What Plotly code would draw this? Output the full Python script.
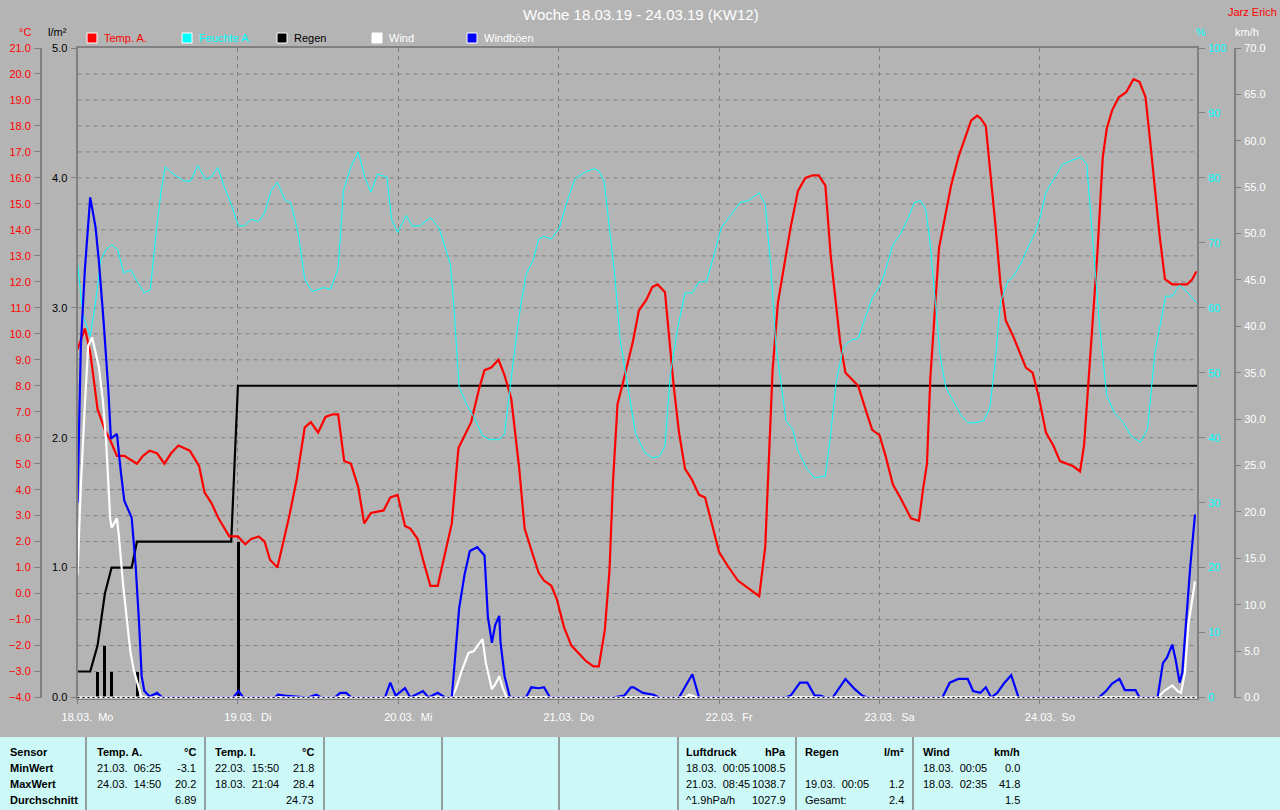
import plotly.graph_objects as go

# ---------------- data (hours since 18.03.19 00:00) ----------------
temp_hours = [0, 1.1, 1.9, 3.0, 4.1, 4.9, 5.9, 7.0, 8.9, 9.8, 10.8, 11.9, 13.0, 14.0, 15.1, 16.8, 18.2, 19.0,
              20.0, 21.1, 22.7, 24.0, 25.1, 26.0, 27.1, 28.0, 28.8, 29.9, 30.9, 31.7, 32.8, 34.0, 34.9, 36.0,
              37.1, 38.2, 39.0, 39.9, 40.9, 42.0, 42.9, 43.9, 45.8, 46.8, 47.9, 49.0, 49.8, 50.9, 51.7, 52.8,
              53.9, 55.0, 56.0, 57.0, 57.9, 58.9, 60.1, 60.9, 61.9, 63.0, 63.9, 64.9, 66.1, 66.9, 68.0, 69.0,
              69.8, 70.9, 71.7, 72.8, 73.9, 75.0, 76.1, 77.2, 78.0, 78.9, 79.6, 80.1, 80.8, 81.5, 82.3, 83.1,
              84.0, 85.1, 86.0, 86.8, 87.9, 88.4, 89.2, 90.0, 90.9, 91.9, 93.0, 93.9, 95.0, 96.0, 97.2, 98.8,
              100.4, 102.0, 102.9, 103.4, 104.0, 104.8, 105.9, 106.7, 107.8, 108.9, 110.0, 110.9, 111.9, 112.7,
              113.5, 114.1, 114.9, 116.8, 117.9, 118.9, 120.0, 120.9, 122.0, 123.1, 124.7, 125.9, 126.5, 127.1,
              127.6, 128.3, 128.9, 129.8, 130.7, 131.8, 132.9, 133.7, 134.6, 135.1, 135.9, 136.7, 137.3, 138.1,
              138.9, 140.0, 141.1, 141.9, 142.9, 143.8, 144.9, 146.0, 147.0, 147.9, 149.0, 150.0, 150.6, 151.3,
              152.0, 152.6, 153.4, 154.0, 154.8, 155.8, 156.9, 158.0, 158.9, 159.8, 160.5, 161.0, 161.9, 162.7,
              163.8, 164.9, 166.0, 166.8, 167.4]
temp_values = [9.4, 10.2, 9.3, 7.1, 6.3, 5.9, 5.3, 5.3, 5.0, 5.3, 5.5, 5.4, 5.0, 5.4, 5.7, 5.5, 4.9, 3.9,
               3.5, 2.9, 2.2, 2.2, 1.9, 2.1, 2.2, 2.0, 1.3, 1.0, 2.1, 3.0, 4.4, 6.4, 6.6, 6.2,
               6.8, 6.9, 6.9, 5.1, 5.0, 4.1, 2.7, 3.1, 3.2, 3.7, 3.8, 2.6, 2.5, 2.1, 1.3, 0.3,
               0.3, 1.6, 2.7, 5.6, 6.1, 6.6, 7.9, 8.6, 8.7, 9.0, 8.4, 7.5, 4.8, 2.5, 1.6, 0.8,
               0.5, 0.3, -0.2, -1.3, -2.0, -2.3, -2.6, -2.8, -2.8, -1.4, 0.9, 4.2, 7.3, 8.0, 8.9, 9.7,
               10.9, 11.3, 11.8, 11.9, 11.6, 10.2, 8.0, 6.2, 4.8, 4.4, 3.8, 3.7, 2.6, 1.6, 1.1, 0.5,
               0.2, -0.1, 1.8, 5.0, 8.6, 11.2, 12.8, 14.1, 15.5, 16.0, 16.1, 16.1, 15.7, 13.0,
               11.1, 9.7, 8.5, 8.0, 7.1, 6.3, 6.1, 5.3, 4.2, 3.7, 2.9, 2.8, 4.0, 5.0,
               8.3, 11.2, 13.3, 14.5, 15.7, 16.8, 17.6, 18.2, 18.4, 18.3, 18.0, 15.9, 14.3, 11.9,
               10.5, 9.9, 9.2, 8.7, 8.5, 7.6, 6.2, 5.7, 5.1, 5.0, 4.9, 4.7, 5.7, 8.3,
               10.9, 13.1, 16.8, 17.9, 18.6, 19.1, 19.3, 19.8, 19.7, 19.1, 17.4, 16.1, 13.8, 12.1,
               11.9, 11.9, 11.9, 12.1, 12.4]

hum_hours = [0, 0.8, 1.9, 2.7, 3.5, 4.3, 5.1, 6.0, 6.9, 8.0, 8.9, 10.0, 10.9, 11.8, 12.5, 13.1, 14.3, 16.0,
             16.9, 18.0, 19.1, 20.0, 21.0, 21.9, 23.0, 24.1, 24.9, 26.0, 27.1, 28.0, 29.0, 29.9, 31.1, 31.9,
             33.0, 34.0, 35.1, 36.8, 37.9, 39.0, 39.8, 40.9, 42.0, 43.0, 43.9, 44.9, 46.3, 47.0, 47.9, 49.2,
             50.1, 51.2, 52.8, 54.1, 55.8, 56.4, 57.1, 58.2, 59.3, 60.6, 61.7, 63.1, 63.9, 64.7, 65.5, 66.3,
             67.1, 68.2, 69.0, 69.8, 70.9, 72.1, 73.1, 74.4, 75.8, 77.2, 78.0, 78.8, 79.6, 80.4, 81.2, 82.0,
             82.8, 83.5, 84.9, 86.0, 87.0, 87.9, 88.7, 89.8, 90.9, 92.0, 93.0, 94.1, 95.2, 96.3, 97.7, 99.1,
             100.4, 102.0, 102.9, 103.7, 104.5, 105.4, 106.0, 107.0, 107.8, 109.2, 110.3, 111.9, 112.7, 113.5,
             114.6, 115.7, 116.8, 117.8, 118.9, 120.1, 120.9, 122.0, 123.1, 124.2, 125.2, 126.1, 126.9, 127.5,
             128.3, 129.1, 129.9, 131.3, 132.1, 133.2, 134.3, 135.6, 136.5, 137.3, 138.1, 139.2, 140.0, 141.1,
             142.2, 143.3, 144.1, 144.9, 146.3, 147.4, 148.8, 150.1, 151.0, 151.8, 152.9, 154.0, 155.1, 156.5,
             157.6, 159.0, 160.1, 161.2, 162.8, 163.8, 164.9, 166.0, 167.4]
hum_values = [67.1, 58.9, 55.6, 60.9, 67.4, 69.0, 69.7, 69.0, 65.4, 65.8, 64.1, 62.3, 62.8, 72.0, 77.8, 81.7, 80.6, 79.5,
              79.5, 81.9, 79.8, 80.1, 81.6, 78.8, 75.9, 72.6, 72.6, 73.6, 73.3, 74.6, 78.1, 79.3, 76.5, 76.2,
              71.6, 64.4, 62.5, 63.1, 62.9, 66.1, 78.1, 81.7, 84.0, 80.1, 77.8, 80.6, 80.1, 73.6, 71.6, 74.2,
              72.6, 72.6, 73.9, 72.3, 66.7, 58.9, 47.8, 45.2, 43.2, 40.3, 39.7, 39.7, 40.6, 47.8, 54.3, 60.2,
              65.1, 67.4, 70.6, 71.0, 70.6, 72.3, 75.9, 79.8, 80.8, 81.4, 81.1, 79.5, 72.6, 64.8, 55.0, 49.8,
              45.2, 40.6, 37.7, 36.9, 37.1, 38.7, 49.8, 56.9, 62.3, 62.3, 64.0, 64.0, 68.0, 72.3, 74.2, 76.2,
              76.5, 77.7, 75.9, 66.7, 54.3, 47.2, 42.6, 41.3, 38.0, 35.1, 33.8, 34.1, 40.6, 48.5,
              54.0, 55.0, 55.3, 58.3, 61.5, 63.5, 65.8, 69.7, 71.3, 73.6, 76.2, 76.5, 75.2, 70.6,
              60.9, 52.4, 47.8, 45.2, 43.6, 42.3, 42.3, 42.6, 44.6, 51.7, 60.9, 64.1, 64.8, 66.7,
              69.3, 71.6, 74.2, 77.8, 80.1, 82.1, 82.7, 83.2, 82.1, 71.3, 57.5, 46.5, 43.9, 42.3,
              40.3, 39.3, 41.3, 53.1, 61.8, 61.8, 63.5, 62.5, 60.8]

rain_cum_hours = [0, 1.9, 3.0, 4.1, 5.1, 8.1, 8.9, 23.0, 24.0, 167.5]
rain_cum_values = [0.2, 0.2, 0.4, 0.8, 1.0, 1.0, 1.2, 1.2, 2.4, 2.4]
rain_bar_hours = [2.9, 4.0, 5.0, 8.9, 24.0]
rain_bar_values = [0.2, 0.4, 0.2, 0.2, 1.2]

wind_hours = [0, 0.5, 1.1, 1.6, 2.2, 2.7, 3.2, 3.8, 4.3, 4.9, 5.1, 5.9, 6.2, 6.8, 7.3, 7.9, 8.4, 8.9, 9.5, 10.0,
              56.0, 56.6, 57.4, 58.5, 59.3, 59.8, 60.6, 61.1, 62.0, 62.5, 63.1, 63.6, 64.2,
              91.0, 91.5, 92.0, 92.5, 161.6, 162.6, 163.8, 164.6, 165.1, 165.7, 166.2, 167.2]
wind_values = [13.2, 22.8, 31.5, 37.9, 38.8, 37.2, 35.6, 32.0, 27.4, 19.2, 18.3, 19.3, 17.4, 12.3, 9.1, 5.0, 3.0, 1.8, 0.2, 0,
               0, 0.9, 2.7, 4.8, 5.0, 5.5, 6.3, 3.7, 0.9, 1.4, 2.3, 1.1, 0,
               0, 0.3, 0.2, 0, 0, 0.7, 1.3, 0.7, 0.5, 2.7, 7.8, 12.5]

gust_hours = [0, 0.5, 1.1, 1.9, 2.7, 3.2, 3.9, 4.6, 5.0, 5.9, 6.5, 7.0, 8.1, 8.7, 9.2, 9.6, 10.0, 10.8, 11.9, 12.7,
              23.3, 24.1, 24.8, 29.5, 30.0, 31.0, 34.5, 35.7, 36.5, 38.5, 39.3, 40.2, 41.0,
              46.0, 46.8, 47.6, 49.0, 49.8, 51.7, 52.5, 53.9, 55.0, 56.0, 56.6, 57.1, 57.9, 58.7, 59.8, 60.9,
              61.4, 62.0, 62.5, 63.1, 63.3, 63.9, 64.7, 67.1, 67.9, 69.0, 69.8, 70.7, 80.1, 81.8, 82.8, 83.2,
              84.6, 86.2, 87.0, 90.0, 91.1, 92.0, 93.0, 105.9, 106.7, 108.1, 109.2, 110.3, 111.1, 112.0, 113.0,
              114.9, 116.3, 117.4, 118.2, 129.4, 130.5, 131.8, 133.2, 134.0, 135.1, 135.9, 136.7, 137.6, 138.7,
              139.7, 140.8, 152.8, 153.9, 154.8, 155.9, 156.7, 158.3, 158.9, 161.6, 162.4, 163.0, 163.8, 164.3,
              164.9, 165.3, 165.7, 166.0, 166.5, 167.2]
gust_values = [21.0, 37.9, 46.1, 53.9, 50.7, 47.0, 40.6, 33.3, 27.9, 28.4, 24.2, 21.2, 19.4, 14.2, 8.2, 2.3, 0.7, 0.1, 0.5, 0,
               0, 0.7, 0, 0, 0.3, 0.2, 0, 0.3, 0, 0, 0.5, 0.5, 0,
               0, 1.6, 0.2, 1.0, 0, 0.7, 0, 0.5, 0, 0, 5.0, 9.6, 13.2, 15.8, 16.2, 15.3,
               8.7, 5.9, 7.8, 8.8, 5.9, 2.3, 0, 0, 1.1, 1.0, 1.1, 0, 0, 0.2, 1.1, 1.1,
               0.5, 0.3, 0, 0, 1.4, 2.5, 0, 0, 0.2, 1.6, 1.6, 0.2, 0.2, 0, 0,
               2.0, 0.9, 0.2, 0, 0, 1.6, 2.0, 2.0, 0.7, 0.5, 1.1, 0, 0.5, 1.6,
               2.4, 0, 0, 0.7, 1.5, 2.0, 0.8, 0.8, 0, 0, 3.7, 4.3, 5.7, 4.1,
               1.6, 2.7, 6.4, 10.0, 14.2, 19.7]

day_ticks = [0, 24, 48, 72, 96, 120, 144]
day_labels = ["18.03.\u00a0 Mo", "19.03.\u00a0 Di", "20.03.\u00a0 Mi", "21.03.\u00a0 Do",
              "22.03.\u00a0 Fr", "23.03.\u00a0 Sa", "24.03.\u00a0 So"]
temp_grid_values = list(range(-3, 21))

legend_names = ["Temp. A.", "Feuchte A.", "Regen", "Wind", "Windböen"]
legend_colors = ["#FF0000", "#00FFFF", "#000000", "#FFFFFF", "#0000FF"]
legend_text_colors = ["#FF0000", "#00FFFF", "#000000", "#FFFFFF", "#FFFFFF"]

table_header = ["Sensor", "MinWert", "MaxWert", "Durchschnitt"]
table_cols = [
    ("Temp. A.", "°C", [("21.03.\u00a0 06:25", "-3.1"), ("24.03.\u00a0 14:50", "20.2"), ("", "6.89")]),
    ("Temp. I.", "°C", [("22.03.\u00a0 15:50", "21.8"), ("18.03.\u00a0 21:04", "28.4"), ("", "24.73")]),
    ("Luftdruck", "hPa", [("18.03.\u00a0 00:05", "1008.5"), ("21.03.\u00a0 08:45", "1038.7"), ("^1.9hPa/h", "1027.9")]),
    ("Regen", "l/m²", [("", ""), ("19.03.\u00a0 00:05", "1.2"), ("Gesamt:", "2.4")]),
    ("Wind", "km/h", [("18.03.\u00a0 00:05", "0.0"), ("18.03.\u00a0 02:35", "41.8"), ("", "1.5")]),
]

# ---------------- layout helpers ----------------
W, H = 1280, 810
BG = "#B4B4B4"
GRID = "#808080"
FONT = "Liberation Sans"
DASH = "4px,4px"


def px(x):
    return x / W


def py(y):
    return 1 - y / H


PLOT_L, PLOT_R, PLOT_T, PLOT_B = 77.5, 1197, 48, 697.5

fig = go.Figure()

fig.add_trace(go.Bar(x=rain_bar_hours, y=rain_bar_values, width=0.5, yaxis="y",
                     marker=dict(color="#000000", line=dict(width=0)), showlegend=False))
fig.add_trace(go.Scatter(x=rain_cum_hours, y=rain_cum_values, mode="lines", yaxis="y",
                         line=dict(color="#000000", width=2.2), showlegend=False))
fig.add_trace(go.Scatter(x=hum_hours, y=hum_values, mode="lines", yaxis="y3",
                         line=dict(color="#00FFFF", width=1), showlegend=False))
fig.add_trace(go.Scatter(x=temp_hours, y=temp_values, mode="lines", yaxis="y2",
                         line=dict(color="#FF0000", width=2.2), showlegend=False))
fig.add_trace(go.Scatter(x=wind_hours, y=wind_values, mode="lines", yaxis="y4",
                         line=dict(color="#FFFFFF", width=2.2), showlegend=False))
fig.add_trace(go.Scatter(x=gust_hours, y=gust_values, mode="lines", yaxis="y4",
                         line=dict(color="#0000FF", width=2.2), showlegend=False))

ydom = [py(PLOT_B), py(PLOT_T)]
tickfont = lambda c: dict(family=FONT, size=11, color=c)

shapes = []
annotations = []

# horizontal dashed grid (one per °C on the temperature scale)
for v in temp_grid_values:
    shapes.append(dict(type="line", xref="x domain", yref="y2", x0=0, x1=1, y0=v, y1=v,
                       line=dict(color=GRID, width=1, dash=DASH), layer="below"))

# legend
for i, (name, col, tcol) in enumerate(zip(legend_names, legend_colors, legend_text_colors)):
    x0 = 87 + i * 95
    shapes.append(dict(type="rect", xref="paper", yref="paper", x0=px(x0), x1=px(x0 + 10),
                       y0=py(43), y1=py(33), fillcolor=col, line=dict(color="#FFFFFF", width=1)))
    annotations.append(dict(xref="paper", yref="paper", x=px(x0 + 15), y=py(38), text=name,
                            showarrow=False, xanchor="left", yanchor="middle",
                            font=dict(family=FONT, size=11, color=tcol)))

# title & labels
annotations += [
    dict(xref="paper", yref="paper", x=px(641), y=py(15), text="Woche 18.03.19 - 24.03.19 (KW12)",
         showarrow=False, xanchor="center", yanchor="middle", font=dict(family=FONT, size=15, color="#FFFFFF")),
    dict(xref="paper", yref="paper", x=px(1252), y=py(12), text="Jarz Erich", showarrow=False,
         xanchor="center", yanchor="middle", font=dict(family=FONT, size=11, color="#FF0000")),
    dict(xref="paper", yref="paper", x=px(25), y=py(32), text="°C", showarrow=False,
         xanchor="center", yanchor="middle", font=dict(family=FONT, size=11, color="#FF0000")),
    dict(xref="paper", yref="paper", x=px(57), y=py(32), text="l/m²", showarrow=False,
         xanchor="center", yanchor="middle", font=dict(family=FONT, size=11, color="#000000")),
    dict(xref="paper", yref="paper", x=px(1201), y=py(32), text="%", showarrow=False,
         xanchor="center", yanchor="middle", font=dict(family=FONT, size=11, color="#00FFFF")),
    dict(xref="paper", yref="paper", x=px(1247), y=py(32), text="km/h", showarrow=False,
         xanchor="center", yanchor="middle", font=dict(family=FONT, size=11, color="#FFFFFF")),
]

# bottom baseline (dotted)
shapes.append(dict(type="line", xref="paper", yref="paper", x0=px(PLOT_L), x1=px(PLOT_R),
                   y0=py(PLOT_B), y1=py(PLOT_B), line=dict(color="#FFFFFF", width=2), layer="above"))
shapes.append(dict(type="line", xref="paper", yref="paper", x0=px(PLOT_L), x1=px(PLOT_R),
                   y0=py(PLOT_B), y1=py(PLOT_B), line=dict(color="#000000", width=1, dash="2px,3px"), layer="above"))

# table
shapes.append(dict(type="rect", xref="paper", yref="paper", x0=0, x1=1, y0=0, y1=py(737),
                   fillcolor="#CCF8F8", line=dict(width=0), layer="below"))
for sx in [86, 205, 324, 442, 559, 678, 796, 913]:
    shapes.append(dict(type="line", xref="paper", yref="paper", x0=px(sx), x1=px(sx), y0=0, y1=py(737),
                       line=dict(color="#808080", width=1.5)))
row_y = [752, 768, 784, 800]
for r, t in enumerate(table_header):
    annotations.append(dict(xref="paper", yref="paper", x=px(8), y=py(row_y[r]), text="<b>%s</b>" % t,
                            showarrow=False, xanchor="left", yanchor="middle",
                            font=dict(family=FONT, size=11, color="#000000")))
col_pos = [(95, 198), (213, 316), (684, 788), (803, 906), (921, 1022)]
for (lx, rx), (head, unit, rows) in zip(col_pos, table_cols):
    annotations.append(dict(xref="paper", yref="paper", x=px(lx), y=py(row_y[0]), text="<b>%s</b>" % head,
                            showarrow=False, xanchor="left", yanchor="middle",
                            font=dict(family=FONT, size=11, color="#000000")))
    annotations.append(dict(xref="paper", yref="paper", x=px(rx), y=py(row_y[0]), text="<b>%s</b>" % unit,
                            showarrow=False, xanchor="right", yanchor="middle",
                            font=dict(family=FONT, size=11, color="#000000")))
    for r, (left, right) in enumerate(rows):
        if left:
            annotations.append(dict(xref="paper", yref="paper", x=px(lx), y=py(row_y[r + 1]), text=left,
                                    showarrow=False, xanchor="left", yanchor="middle",
                                    font=dict(family=FONT, size=11, color="#000000")))
        if right:
            annotations.append(dict(xref="paper", yref="paper", x=px(rx), y=py(row_y[r + 1]), text=right,
                                    showarrow=False, xanchor="right", yanchor="middle",
                                    font=dict(family=FONT, size=11, color="#000000")))

fig.update_layout(
    width=W, height=H, autosize=False,
    margin=dict(l=0, r=0, t=0, b=0, pad=0),
    paper_bgcolor=BG, plot_bgcolor=BG,
    showlegend=False, bargap=0,
    font=dict(family=FONT, size=11),
    xaxis=dict(domain=[px(PLOT_L), px(PLOT_R)], range=[0, 167.5], anchor="y",
               tickvals=day_ticks, ticktext=day_labels, tickfont=tickfont("#FFFFFF"),
               ticks="outside", ticklen=4, tickcolor=GRID, ticklabelshift=10, ticklabelstandoff=4,
               showgrid=True, gridcolor=GRID, griddash=DASH, gridwidth=1,
               showline=True, linecolor=GRID, linewidth=2, mirror=True, zeroline=False, automargin=False),
    yaxis=dict(domain=ydom, range=[0, 5], anchor="x", side="left",
               tickmode="linear", tick0=0, dtick=1, tickformat=".1f", tickfont=tickfont("#000000"),
               ticks="outside", ticklen=5, tickcolor=GRID, ticklabelstandoff=1,
               showgrid=False, showline=True, linecolor=GRID, linewidth=2, zeroline=False, automargin=False),
    yaxis2=dict(overlaying="y", anchor="free", position=px(41), side="left", range=[-4, 21],
                tickmode="linear", dtick=1, tick0=0, tickformat=".1f", tickfont=tickfont("#FF0000"),
                ticks="outside", ticklen=6, tickcolor=GRID, ticklabelstandoff=1,
                showgrid=False, showline=True, linecolor=GRID, linewidth=2, zeroline=False, automargin=False),
    yaxis3=dict(overlaying="y", anchor="x", side="right", range=[0, 100],
                dtick=10, tick0=0, tickfont=tickfont("#00FFFF"),
                ticks="outside", ticklen=6, tickcolor=GRID, ticklabelstandoff=1,
                showgrid=False, showline=True, linecolor=GRID, linewidth=2, zeroline=False, automargin=False),
    yaxis4=dict(overlaying="y", anchor="free", position=px(1235), side="right", range=[0, 70],
                dtick=5, tick0=0, tickformat=".1f", tickfont=tickfont("#FFFFFF"),
                ticks="outside", ticklen=5, tickcolor=GRID, ticklabelstandoff=1,
                showgrid=False, showline=True, linecolor=GRID, linewidth=2, zeroline=False, automargin=False),
    shapes=shapes,
    annotations=annotations,
)

fig.write_html("out.html", config={"displayModeBar": False},
               post_script="document.body.style.margin='0';")
